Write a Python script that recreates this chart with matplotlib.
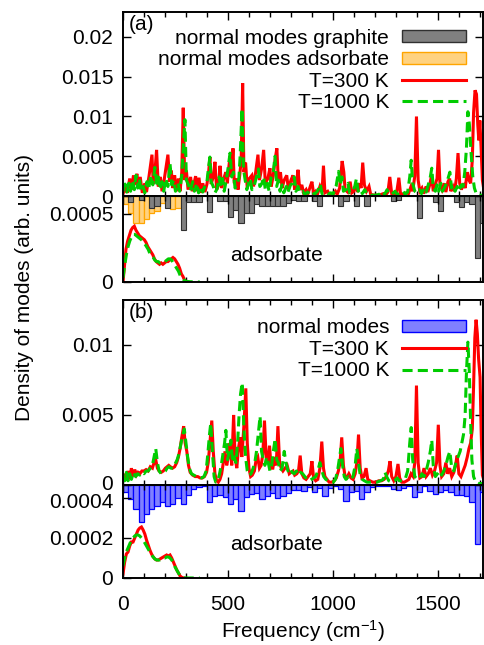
import numpy as np
import matplotlib
matplotlib.use('Agg')
import matplotlib.pyplot as plt
from matplotlib import rc
from matplotlib.ticker import MultipleLocator, FormatStrFormatter
from matplotlib.patches import Patch
from matplotlib.lines import Line2D
from matplotlib.transforms import ScaledTranslation

# --- data (frequency in cm^-1) ---
# full spectra, values in units of 1e-3
a_t300 = [(0,0.3),(12,1.2),(20,0.4),(32,2.2),(40,0.8),(50,2.6),(58,1.4),(66,2.8),(74,1.0),(82,2.4),(92,0.4),
          (104,1.6),(112,0.5),(124,2.5),(132,4.0),(138,5.2),(144,1.5),(152,3.0),(160,5.8),(168,1.2),(178,2.4),
          (186,0.6),(196,2.0),(204,3.4),(214,5.2),(222,1.8),(230,3.2),(238,1.0),(246,2.6),(254,0.6),(264,2.2),
          (272,0.6),(280,3.0),(287,11.1),(294,2.0),(302,3.2),(310,0.8),(322,2.4),(330,0.6),(346,2.5),(352,0.6),
          (362,2.3),(370,0.4),(380,1.6),(390,0.5),(400,1.5),(408,3.0),(414,4.9),(420,1.5),(430,2.4),(438,4.3),
          (446,0.8),(456,1.4),(462,3.8),(470,1.0),(480,2.2),(490,3.0),(497,1.6),(504,3.6),(510,5.0),(516,2.4),
          (524,6.0),(530,1.6),(540,2.2),(548,0.8),(556,2.6),(563,4.5),(570,14.2),(576,3.0),(584,4.2),(592,1.0),
          (602,2.2),(614,2.6),(622,1.2),(632,3.0),(643,5.2),(650,2.0),(660,3.4),(670,5.8),(678,1.6),(690,2.2),
          (700,3.5),(706,1.2),(716,2.6),(724,4.5),(733,6.0),(740,1.8),(750,3.0),(758,1.0),(768,2.0),(780,2.6),
          (788,0.8),(800,2.0),(810,2.6),(818,0.8),(826,1.6),(834,3.3),(842,0.8),(852,1.4),(860,0.4),(872,0.8),
          (880,0.2),(892,1.2),(900,1.8),(908,0.3),(918,0.6),(926,0.2),(938,1.2),(948,0.5),(955,3.8),(962,0.4),
          (975,0.6),(985,0.1),(1000,0.2),(1012,0.6),(1020,0.2),(1032,1.0),(1044,4.4),(1052,3.0),(1058,0.8),
          (1070,0.5),(1082,1.8),(1090,0.4),(1100,0.6),(1110,1.4),(1118,0.5),(1128,1.6),(1134,1.0),(1142,4.2),
          (1150,1.4),(1160,0.6),(1172,1.2),(1180,0.2),(1200,0.1),(1220,0.1),(1240,0.3),(1250,0.1),(1262,0.5),
          (1271,2.4),(1280,0.3),(1292,0.2),(1304,0.5),(1314,2.3),(1322,0.3),(1335,0.2),(1350,0.4),(1360,0.3),
          (1372,1.2),(1380,0.6),(1390,2.5),(1398,10.0),(1406,2.0),(1414,0.6),(1424,1.0),(1432,0.3),(1444,1.2),
          (1452,0.5),(1462,1.5),(1470,2.6),(1478,0.6),(1488,1.5),(1496,2.2),(1503,5.8),(1510,1.5),(1520,0.8),
          (1530,1.6),(1538,0.5),(1548,1.8),(1556,2.2),(1562,0.6),(1572,1.2),(1580,0.6),(1588,2.2),(1596,5.4),
          (1604,1.6),(1612,0.8),(1622,1.6),(1630,1.0),(1640,3.0),(1648,2.0),(1656,1.6),(1664,4.5),(1670,10.5),
          (1677,13.3),(1684,12.8),(1690,9.0),(1695,7.0),(1700,9.5),(1706,6.0),(1712,2.0),(1720,0.6)]

a_t1000 = [(0,0.6),(10,1.5),(18,0.5),(28,1.6),(36,0.6),(46,2.0),(54,0.8),(62,2.6),(70,1.0),(78,2.2),(86,0.6),
           (96,1.2),(104,0.4),(114,1.8),(122,0.8),(132,2.6),(142,1.4),(152,3.6),(160,1.6),(168,2.4),(176,0.8),
           (186,1.8),(194,0.6),(204,2.2),(214,1.2),(224,4.1),(232,1.4),(242,2.0),(250,0.6),(262,1.6),(270,0.6),
           (280,2.6),(287,6.0),(295,9.6),(302,2.0),(312,1.4),(320,0.6),(332,1.8),(340,0.6),(352,1.6),(360,0.4),
           (372,1.2),(380,0.5),(392,1.4),(400,1.8),(407,3.5),(414,4.9),(420,1.8),(430,1.2),(438,0.4),(448,0.9),
           (458,2.4),(465,1.2),(474,2.2),(482,0.6),(492,2.0),(500,3.4),(510,5.4),(518,2.4),(526,3.0),(534,1.0),
           (544,1.6),(552,2.2),(558,5.0),(567,11.0),(574,3.4),(582,2.0),(590,0.8),(598,1.6),(606,2.2),(614,0.8),
           (624,1.2),(634,2.2),(645,3.4),(652,1.2),(662,1.6),(670,2.4),(678,0.8),(688,1.6),(696,0.6),(706,2.4),
           (716,3.0),(724,5.0),(732,1.2),(740,2.0),(748,0.6),(758,1.4),(766,0.4),(778,1.2),(786,0.5),(798,1.4),
           (808,1.6),(816,2.4),(824,0.6),(834,1.2),(842,0.4),(856,0.6),(866,0.2),(880,0.5),(890,0.2),(904,0.5),
           (912,0.2),(926,0.6),(940,1.5),(948,0.3),(962,0.5),(975,0.2),(990,0.4),(1000,0.2),(1015,1.2),
           (1027,3.1),(1035,1.4),(1043,2.4),(1050,0.6),(1062,0.8),(1072,1.6),(1080,0.4),(1094,0.6),(1104,1.2),
           (1112,2.2),(1120,0.6),(1130,0.9),(1140,0.3),(1152,0.8),(1162,0.2),(1180,0.1),(1200,0.1),(1220,0.2),
           (1236,0.6),(1246,0.2),(1258,0.8),(1266,0.3),(1280,0.2),(1296,0.6),(1306,0.2),(1320,0.3),(1336,0.6),
           (1344,0.2),(1356,0.5),(1366,2.4),(1373,4.5),(1380,1.6),(1390,0.6),(1400,0.4),(1412,0.8),(1422,0.3),
           (1434,1.0),(1444,0.5),(1454,1.4),(1464,2.4),(1471,3.5),(1478,1.0),(1488,0.6),(1496,1.4),(1504,0.6),
           (1514,1.6),(1522,0.6),(1534,1.2),(1546,2.0),(1557,3.0),(1565,1.0),(1574,1.4),(1582,0.6),(1592,1.2),
           (1600,0.6),(1612,1.4),(1620,1.2),(1628,3.0),(1636,6.0),(1643,10.6),(1650,9.0),(1658,5.5),(1666,2.5),
           (1674,1.0),(1684,0.2),(1700,0.1),(1720,0.1)]

b_t300 = [(0,0.4),(8,0.8),(16,0.3),(24,1.0),(32,0.4),(40,1.2),(48,0.6),(56,1.1),(64,0.7),(72,0.9),(80,0.8),
          (90,1.0),(100,1.0),(110,1.1),(120,1.0),(130,1.3),(140,1.2),(148,1.6),(156,1.8),(164,1.2),(172,1.0),
          (182,0.9),(192,1.0),(202,1.2),(210,1.3),(218,1.4),(226,1.3),(236,1.2),(246,1.3),(256,1.6),(264,2.0),
          (272,2.6),(280,3.4),(289,4.2),(296,3.0),(304,2.4),(312,1.4),(320,0.9),(332,0.7),(344,0.6),(356,0.6),
          (368,0.5),(378,0.5),(388,0.6),(398,0.9),(406,1.6),(414,3.0),(423,4.6),(430,2.4),(438,0.8),(446,0.3),
          (454,0.2),(462,0.4),(470,0.8),(478,1.6),(486,2.4),(494,1.4),(502,2.0),(510,3.0),(518,1.4),(527,5.0),
          (534,2.0),(542,1.2),(550,2.6),(558,3.4),(566,2.0),(575,4.0),(585,6.9),(592,3.0),(600,1.2),(608,0.6),
          (616,0.7),(626,1.0),(634,1.8),(642,2.0),(650,1.2),(658,1.4),(666,2.2),(674,4.6),(682,2.0),(690,1.6),
          (698,2.8),(706,1.2),(714,1.2),(722,2.0),(730,1.4),(738,4.2),(746,1.6),(754,1.2),(762,1.0),(772,1.2),
          (782,1.4),(792,0.8),(800,0.9),(810,1.0),(818,0.7),(828,0.8),(836,1.0),(844,2.1),(852,0.8),(862,0.5),
          (872,0.4),(882,0.6),(892,0.8),(900,1.7),(908,0.5),(918,0.3),(928,0.4),(938,1.2),(947,3.1),(955,1.2),
          (962,0.6),(972,0.4),(982,0.2),(994,0.2),(1006,0.3),(1016,0.5),(1026,1.0),(1034,1.6),(1042,3.4),
          (1050,1.4),(1058,0.6),(1066,0.5),(1076,0.8),(1086,0.5),(1096,0.4),(1106,0.8),(1114,1.6),(1122,3.6),
          (1130,1.2),(1138,0.5),(1148,0.6),(1158,1.2),(1166,0.4),(1176,0.3),(1190,0.2),(1204,0.2),(1218,0.3),
          (1232,0.3),(1244,0.4),(1254,0.6),(1264,1.0),(1272,1.7),(1280,0.6),(1290,0.3),(1300,0.6),(1310,1.5),
          (1318,0.5),(1328,0.2),(1340,0.2),(1352,0.3),(1362,0.4),(1372,0.8),(1382,0.6),(1390,1.6),(1398,7.1),
          (1406,1.6),(1414,0.5),(1424,0.6),(1434,1.2),(1444,0.6),(1454,0.8),(1464,1.2),(1474,0.7),(1484,1.0),
          (1494,1.6),(1502,4.3),(1510,1.4),(1518,0.6),(1528,0.8),(1538,1.6),(1546,0.8),(1556,1.2),(1566,0.6),
          (1576,0.9),(1586,1.6),(1592,2.1),(1600,0.8),(1610,0.6),(1620,1.0),(1630,1.4),(1640,2.0),(1648,2.6),
          (1656,3.0),(1664,4.0),(1670,7.0),(1676,10.5),(1682,11.8),(1688,10.8),(1694,9.0),(1701,7.7),(1706,4.0),
          (1712,0.7),(1720,0.3)]

b_t1000 = [(0,0.8),(8,0.3),(16,0.9),(24,0.3),(32,0.8),(40,0.4),(50,0.9),(60,0.6),(70,0.8),(80,0.7),(90,0.9),
           (100,0.8),(110,1.0),(120,1.0),(130,1.2),(140,1.4),(148,2.0),(156,2.6),(164,1.6),(172,1.0),(182,0.8),
           (192,0.9),(202,1.0),(210,1.2),(218,1.3),(228,1.2),(238,1.2),(248,1.5),(258,1.8),(266,2.2),(274,2.8),
           (282,3.4),(292,4.0),(300,3.0),(308,2.0),(316,1.2),(326,0.8),(338,0.7),(350,0.6),(362,0.6),(374,0.5),
           (386,0.6),(396,1.0),(404,2.2),(412,3.6),(418,4.4),(426,2.4),(434,0.6),(442,0.2),(452,0.3),(460,0.8),
           (468,1.4),(476,2.2),(484,3.0),(490,3.9),(498,1.8),(506,2.4),(514,3.2),(522,1.6),(530,2.0),(538,1.6),
           (546,3.0),(553,5.0),(560,6.5),(568,7.3),(576,4.0),(584,2.0),(592,1.0),(600,0.7),(610,0.8),(620,1.2),
           (628,1.6),(636,2.4),(644,3.6),(653,4.9),(660,2.4),(668,1.8),(676,1.4),(684,2.0),(692,1.6),(700,1.0),
           (708,1.4),(716,2.4),(725,3.3),(732,1.8),(740,1.6),(748,1.0),(758,1.2),(768,2.4),(776,1.6),(786,1.0),
           (796,1.2),(806,0.9),(816,0.8),(826,1.0),(836,0.7),(846,0.9),(856,0.8),(866,0.6),(876,0.4),(888,0.3),
           (898,0.4),(908,0.5),(918,0.6),(928,1.0),(938,1.6),(946,1.1),(956,0.6),(966,0.4),(978,0.3),(990,0.2),
           (1002,0.2),(1012,0.4),(1022,1.0),(1030,1.8),(1038,2.6),(1046,1.4),(1054,0.6),(1062,0.4),(1074,0.6),
           (1084,0.4),(1096,0.6),(1106,1.4),(1114,2.6),(1122,1.6),(1130,0.7),(1140,0.4),(1150,0.3),(1162,0.2),
           (1176,0.2),(1192,0.2),(1210,0.2),(1226,0.3),(1240,0.4),(1248,0.9),(1256,0.6),(1266,0.3),(1280,0.2),
           (1294,0.3),(1306,0.5),(1316,0.3),(1330,0.3),(1344,0.4),(1356,1.0),(1366,3.0),(1373,4.1),(1380,1.8),
           (1390,0.6),(1402,0.4),(1414,0.5),(1424,0.8),(1434,0.6),(1444,1.0),(1454,1.6),(1464,2.4),(1471,3.2),
           (1478,1.4),(1488,0.6),(1498,0.8),(1508,1.0),(1518,0.7),(1528,1.0),(1538,1.4),(1548,2.0),(1557,2.4),
           (1566,1.2),(1576,1.0),(1586,1.6),(1596,2.0),(1606,2.4),(1614,3.0),(1622,3.6),(1630,5.0),(1636,8.0),
           (1643,10.2),(1650,8.0),(1656,4.5),(1662,1.8),(1670,0.6),(1680,0.2),(1695,0.1),(1720,0.1)]

# adsorbate-projected spectra, values in units of 1e-4
ads_a_t300 = [(0,0.0),(6,1.0),(14,2.4),(22,3.0),(30,3.4),(38,3.8),(46,4.0),(54,4.1),(62,3.8),(70,3.6),(78,3.4),
              (86,3.3),(94,3.2),(102,3.1),(110,2.9),(118,2.6),(126,2.4),(134,2.2),(142,2.0),(150,1.7),(158,1.5),
              (166,1.4),(174,1.3),(182,1.4),(190,1.3),(198,1.4),(206,1.5),(214,1.5),(222,1.6),(230,1.7),(238,1.8),
              (246,1.7),(254,1.5),(262,1.3),(270,1.0),(278,0.6),(286,0.4),(294,0.1),(302,0.02)]
ads_a_t1000 = [(0,0.3),(8,1.2),(16,2.0),(24,2.6),(32,3.0),(40,3.3),(48,3.5),(56,3.5),(64,3.4),(72,3.3),(80,3.2),
               (88,3.1),(96,3.0),(104,2.8),(112,2.6),(120,2.4),(128,2.1),(136,1.9),(144,1.8),(152,1.6),(160,1.5),
               (168,1.5),(176,1.4),(184,1.5),(192,1.5),(200,1.5),(208,1.6),(216,1.7),(224,1.7),(232,1.6),(240,1.4),
               (248,1.2),(256,1.0),(264,0.8),(272,0.5),(280,0.3),(290,0.15),(300,0.05),(320,0.02),(350,0.0),(366,0.0)]
ads_b_t300 = [(0,0.2),(8,0.8),(16,1.2),(24,1.3),(32,1.6),(40,1.8),(48,1.8),(56,2.0),(64,2.2),(72,2.4),(80,2.5),
              (88,2.55),(96,2.4),(104,2.2),(112,1.9),(120,1.65),(128,1.4),(136,1.2),(144,1.05),(152,0.95),(160,0.9),
              (168,0.9),(176,0.95),(184,1.0),(192,1.05),(200,1.1),(208,1.15),(216,1.1),(224,1.15),(232,1.0),
              (240,0.8),(248,0.6),(256,0.4),(264,0.25),(272,0.1),(280,0.03),(290,0.0)]
ads_b_t1000 = [(0,0.6),(8,1.0),(16,1.3),(24,1.5),(32,1.7),(40,1.9),(48,2.0),(56,2.1),(64,2.15),(72,2.15),(80,2.1),
               (88,2.0),(96,1.9),(104,1.75),(112,1.6),(120,1.45),(128,1.3),(136,1.15),(144,1.05),(152,0.95),
               (160,0.9),(168,0.9),(176,0.9),(184,0.95),(192,1.0),(200,1.0),(208,1.05),(216,1.05),(224,1.0),
               (232,0.9),(240,0.75),(248,0.55),(256,0.4),(264,0.25),(272,0.12),(280,0.05),(290,0.01),(310,0.0),
               (366,0.0)]

# normal-mode histograms (25 cm^-1 bins from 0), arb. units
bin_width = 25.0
graphite_modes = [0, 6, 0, 4, 0, 12, 10, 0, 12, 0, 0,
                  34, 6, 6, 6, 0, 16, 0, 5, 5, 21,
                  14, 27, 17, 17, 8, 10, 10, 10, 10, 10,
                  7, 4, 5, 5, 0, 5, 10, 0, 0, 0,
                  10, 5, 0, 10, 0, 10, 0, 0, 0, 0,
                  5, 4, 0, 0, 0, 22, 0, 0, 6, 15,
                  0, 0, 6, 11, 6, 8, 62, 27]
adsorbate_modes = [8, 17, 27, 27, 23, 17, 15, 7, 8, 13, 12]
all_modes = [7, 14, 24, 37, 29, 24, 21, 17, 21, 19,
             13, 19, 10, 4, 2, 1, 17, 11, 10, 12,
             19, 14, 26, 12, 9, 8, 14, 11, 8, 13,
             11, 8, 5, 5, 6, 2, 7, 3, 11, 3,
             1, 4, 16, 7, 6, 14, 7, 2, 1, 1,
             1, 4, 5, 3, 1, 12, 7, 1, 6, 9,
             7, 5, 7, 10, 10, 11, 17, 59, 7]

RED = '#FF0000'
GREEN = '#00CC00'
LW = 2.2
DASH = (3.3, 1.7)


def xy(points, scale):
    a = np.array(points, dtype=float)
    return a[:, 0], a[:, 1] * scale


def style_axes(ax, yticks, xlabels=False):
    ax.set_xlim(0, 1715)
    ax.xaxis.set_major_locator(MultipleLocator(500))
    ax.xaxis.set_minor_locator(MultipleLocator(100))
    ax.set_yticks(yticks)
    ax.yaxis.set_major_formatter(FormatStrFormatter('%g'))
    ax.tick_params(which='both', direction='in', top=True, right=True, width=1.0)
    ax.tick_params(which='major', length=6, pad=7)
    ax.tick_params(which='minor', length=3.5)
    ax.tick_params(axis='x', which='major', pad=12)
    if not xlabels:
        ax.tick_params(labelbottom=False)
    for s in ax.spines.values():
        s.set_linewidth(1.4)


def nudge_label(ax, index, dy_pt):
    # shift one y tick label a little, so neighbouring panels' labels do not collide
    lab = ax.get_yticklabels()[index]
    lab.set_transform(lab.get_transform() + ScaledTranslation(0, dy_pt / 72.0, ax.figure.dpi_scale_trans))


def plot_pair(ax, hi, lo, scale):
    x1, y1 = xy(hi, scale)
    x2, y2 = xy(lo, scale)
    ax.plot(x1, y1, '-', color=RED, lw=LW, solid_joinstyle='miter')
    ax.plot(x2, y2, '--', color=GREEN, lw=LW, dashes=DASH)


def bar_layer(ax, depth_max):
    bx = ax.twinx()
    bx.set_ylim(-depth_max, 0)
    bx.axis('off')
    bx.set_zorder(ax.get_zorder() - 1)
    ax.patch.set_visible(False)
    return bx


def centers(n):
    return bin_width * (np.arange(n) + 0.5)


def main():
    rc('mathtext', fontset='custom', rm='Liberation Sans', it='Liberation Sans', default='regular')
    plt.rcParams['font.family'] = ['Liberation Sans', 'DejaVu Sans']
    plt.rcParams['font.size'] = 15

    fig = plt.figure(figsize=(4.85, 6.45), dpi=100)
    L, W = 0.2536, 0.7423
    ax_a = fig.add_axes([L, 0.6961, W, 0.2853])
    ax_a2 = fig.add_axes([L, 0.5628, W, 0.1333])
    ax_b = fig.add_axes([L, 0.2481, W, 0.2868])
    ax_b2 = fig.add_axes([L, 0.1039, W, 0.1442])

    # (a) full spectrum
    plot_pair(ax_a, a_t300, a_t1000, 1e-3)
    ax_a.set_ylim(0, 0.02314)
    style_axes(ax_a, [0, 0.005, 0.01, 0.015, 0.02])

    # (a) adsorbate + hanging histograms
    plot_pair(ax_a2, ads_a_t300, ads_a_t1000, 1e-4)
    ax_a2.set_ylim(0, 0.000632)
    style_axes(ax_a2, [0, 0.0005])
    bx = bar_layer(ax_a2, 86)
    bx.bar(centers(len(adsorbate_modes)), -np.array(adsorbate_modes), width=bin_width,
           color='#FFD280', edgecolor='#FFA500', linewidth=0.9)
    bx.bar(centers(len(graphite_modes)), -np.array(graphite_modes), width=bin_width,
           color='#808080', edgecolor='#303030', linewidth=0.8)

    # (b) full spectrum
    plot_pair(ax_b, b_t300, b_t1000, 1e-3)
    ax_b.set_ylim(0, 0.01321)
    style_axes(ax_b, [0, 0.005, 0.01])

    plot_pair(ax_b2, ads_b_t300, ads_b_t1000, 1e-4)
    ax_b2.set_ylim(0, 0.000465)
    style_axes(ax_b2, [0, 0.0002, 0.0004], xlabels=True)
    bx = bar_layer(ax_b2, 93)
    bx.bar(centers(len(all_modes)), -np.array(all_modes), width=bin_width,
           color='#8080FF', edgecolor='#0000FF', linewidth=0.9)

    nudge_label(ax_b, 0, 2.0)
    nudge_label(ax_b2, 2, -1.5)

    red_h = Line2D([], [], color=RED, lw=LW)
    green_h = Line2D([], [], color=GREEN, lw=LW, ls='--', dashes=DASH)
    leg_kw = dict(loc='upper right', frameon=False, markerfirst=False, handlelength=3.1,
                  handletextpad=0.6, labelspacing=0.12, borderaxespad=0, borderpad=0,
                  handleheight=0.5)
    ax_a.legend([Patch(fc='#808080', ec='#303030'), Patch(fc='#FFD280', ec='#FFA500'), red_h, green_h],
                ['normal modes graphite', 'normal modes adsorbate', 'T=300 K', 'T=1000 K'],
                bbox_to_anchor=(0.953, 0.91), **leg_kw)
    ax_b.legend([Patch(fc='#8080FF', ec='#0000FF'), red_h, green_h],
                ['normal modes', 'T=300 K', 'T=1000 K'],
                bbox_to_anchor=(0.953, 0.9), **leg_kw)

    ax_a.text(0.015, 0.985, '(a)', transform=ax_a.transAxes, ha='left', va='top')
    ax_b.text(0.015, 0.985, '(b)', transform=ax_b.transAxes, ha='left', va='top')
    ax_a2.text(0.425, 0.31, 'adsorbate', transform=ax_a2.transAxes, ha='center', va='center')
    ax_b2.text(0.425, 0.355, 'adsorbate', transform=ax_b2.transAxes, ha='center', va='center')

    ax_b2.set_xlabel('Frequency (cm$^{-1}$)', labelpad=3)
    fig.text(0.05, 0.555, 'Density of modes (arb. units)', rotation=90, ha='center', va='center')

    fig.savefig('out.png', dpi=100)


if __name__ == '__main__':
    main()
